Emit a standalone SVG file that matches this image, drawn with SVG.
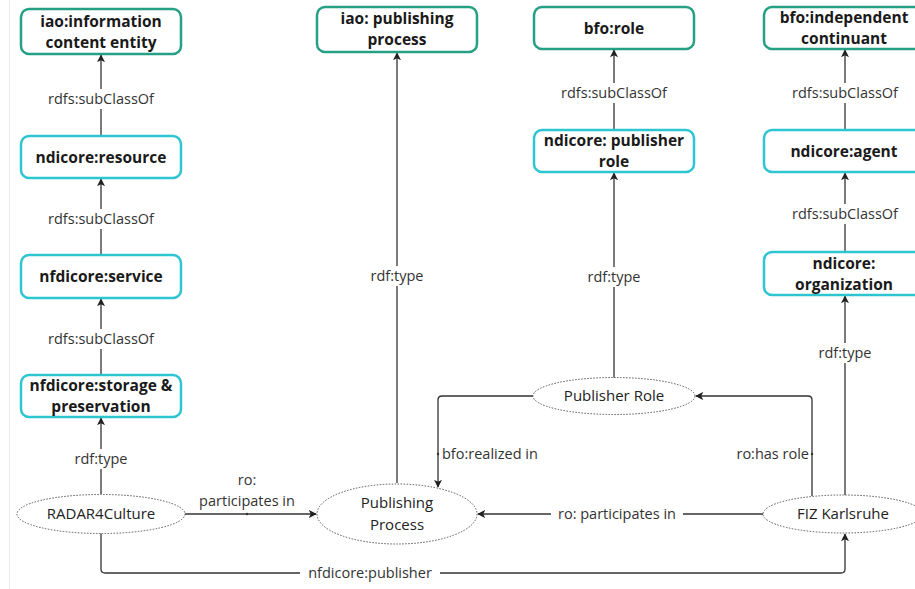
<svg xmlns="http://www.w3.org/2000/svg" width="915" height="589" viewBox="0 0 915 589">
<style>
.bg{fill:#ffffff}
.box1{fill:#ffffff;stroke:#26a085;stroke-width:2.5}
.box2{fill:#ffffff;stroke:#2ec5d3;stroke-width:2.5}
.ell{fill:#ffffff;stroke:#555;stroke-width:1;stroke-dasharray:1.5 1.5}
.bt{font-family:"Open Sans","Liberation Sans",sans-serif;font-weight:bold;font-size:15.5px;fill:#1a1a1a;text-anchor:middle}
.nt{font-family:"Open Sans","Liberation Sans",sans-serif;font-size:15px;fill:#222;text-anchor:middle}
.lt{font-family:"Open Sans","Liberation Sans",sans-serif;font-size:14.5px;fill:#333;text-anchor:middle}
.ls{text-anchor:start}
.le{text-anchor:end}
.ln{fill:none;stroke:#333;stroke-width:1.3}
.lbg{fill:#ffffff}
</style>
<defs>
<marker id="ah" viewBox="0 0 10 10" refX="9" refY="5" markerWidth="8" markerHeight="8" markerUnits="userSpaceOnUse" orient="auto">
<path d="M0,0 L10,5 L0,10 L2.5,5 Z" fill="#222"/>
</marker>
</defs>
<rect class="bg" x="0" y="0" width="915" height="589"/>
<line x1="9.5" y1="0" x2="9.5" y2="589" stroke="#ececec" stroke-width="1"/>

<g id="connectors">
<path class="ln" d="M101,494 V418" marker-end="url(#ah)"/>
<path class="ln" d="M101,375 V299" marker-end="url(#ah)"/>
<path class="ln" d="M101,255 V179" marker-end="url(#ah)"/>
<path class="ln" d="M101,136 V55" marker-end="url(#ah)"/>
<path class="ln" d="M397,483 V53" marker-end="url(#ah)"/>
<path class="ln" d="M614,378 V173" marker-end="url(#ah)"/>
<path class="ln" d="M614,130 V50" marker-end="url(#ah)"/>
<path class="ln" d="M845,495 V296" marker-end="url(#ah)"/>
<path class="ln" d="M845,252 V173" marker-end="url(#ah)"/>
<path class="ln" d="M845,130 V50" marker-end="url(#ah)"/>
<path class="ln" d="M185,514 H316" marker-end="url(#ah)"/>
<path class="ln" d="M764,514 H478" marker-end="url(#ah)"/>
<path class="ln" d="M533,396 H442 Q438,396 438,400 V487" marker-end="url(#ah)"/>
<path class="ln" d="M812,496 V400 Q812,396 808,396 H696" marker-end="url(#ah)"/>
<path class="ln" d="M101,533 V569 Q101,573 105,573 H841 Q845,573 845,569 V534" marker-end="url(#ah)"/>
<circle cx="247" cy="514" r="1.2" fill="#333"/>
<rect class="lbg" x="44" y="449" width="114" height="20"/>
<text class="lt" x="101" y="464">rdf:type</text>
<rect class="lbg" x="44" y="329" width="114" height="20"/>
<text class="lt" x="101" y="344">rdfs:subClassOf</text>
<rect class="lbg" x="44" y="209" width="114" height="20"/>
<text class="lt" x="101" y="224">rdfs:subClassOf</text>
<rect class="lbg" x="44" y="89" width="114" height="20"/>
<text class="lt" x="101" y="104">rdfs:subClassOf</text>
<rect class="lbg" x="360" y="266" width="74" height="20"/>
<text class="lt" x="397" y="281">rdf:type</text>
<rect class="lbg" x="578" y="267" width="72" height="20"/>
<text class="lt" x="614" y="282">rdf:type</text>
<rect class="lbg" x="557" y="83" width="114" height="20"/>
<text class="lt" x="614" y="98">rdfs:subClassOf</text>
<rect class="lbg" x="808" y="343" width="74" height="20"/>
<text class="lt" x="845" y="358">rdf:type</text>
<rect class="lbg" x="788" y="204" width="114" height="20"/>
<text class="lt" x="845" y="219">rdfs:subClassOf</text>
<rect class="lbg" x="788" y="83" width="114" height="20"/>
<text class="lt" x="845" y="98">rdfs:subClassOf</text>
<text class="lt" x="247" y="485">ro:</text>
<text class="lt" x="247" y="506">participates in</text>
<rect class="lbg" x="551" y="504" width="132" height="20"/>
<text class="lt" x="617" y="519">ro: participates in</text>
<text class="lt ls" x="442" y="459">bfo:realized in</text>
<circle cx="438" cy="454" r="1.2" fill="#333"/>
<text class="lt le" x="809" y="459">ro:has role</text>
<circle cx="812" cy="454" r="1.2" fill="#333"/>
<rect class="lbg" x="300" y="563" width="140" height="20"/>
<text class="lt" x="370" y="578">nfdicore:publisher</text>
</g>

<g id="iao-ice">
<rect class="box1" x="21" y="9" width="160" height="45" rx="8"/>
<text class="bt" x="101" y="27">iao:information</text>
<text class="bt" x="101" y="48">content entity</text>
</g>
<g id="ndicore-resource">
<rect class="box2" x="21" y="136" width="160" height="42" rx="8"/>
<text class="bt" x="101" y="163">ndicore:resource</text>
</g>
<g id="nfdicore-service">
<rect class="box2" x="21" y="255" width="160" height="43" rx="8"/>
<text class="bt" x="101" y="282">nfdicore:service</text>
</g>
<g id="nfdicore-storage">
<rect class="box2" x="21" y="375" width="160" height="42" rx="8"/>
<text class="bt" x="101" y="391">nfdicore:storage &amp;</text>
<text class="bt" x="101" y="412">preservation</text>
</g>
<g id="iao-publishing">
<rect class="box1" x="317" y="7" width="160" height="45" rx="8"/>
<text class="bt" x="397" y="24">iao: publishing</text>
<text class="bt" x="397" y="45">process</text>
</g>
<g id="bfo-role">
<rect class="box1" x="534" y="7" width="160" height="42" rx="8"/>
<text class="bt" x="614" y="34">bfo:role</text>
</g>
<g id="ndicore-publisher-role">
<rect class="box2" x="534" y="130" width="160" height="42" rx="8"/>
<text class="bt" x="614" y="146">ndicore: publisher</text>
<text class="bt" x="614" y="167">role</text>
</g>
<g id="bfo-independent">
<rect class="box1" x="764" y="7" width="160" height="42" rx="8"/>
<text class="bt" x="844" y="23">bfo:independent</text>
<text class="bt" x="844" y="44">continuant</text>
</g>
<g id="ndicore-agent">
<rect class="box2" x="764" y="130" width="160" height="42" rx="8"/>
<text class="bt" x="844" y="157">ndicore:agent</text>
</g>
<g id="ndicore-organization">
<rect class="box2" x="764" y="252" width="160" height="43" rx="8"/>
<text class="bt" x="844" y="269">ndicore:</text>
<text class="bt" x="844" y="290">organization</text>
</g>
<g id="radar4culture">
<ellipse class="ell" cx="101" cy="514" rx="84" ry="19.5"/>
<text class="nt" x="101" y="519">RADAR4Culture</text>
</g>
<g id="publishing-process">
<ellipse class="ell" cx="397" cy="514" rx="80" ry="30"/>
<text class="nt" x="397" y="508">Publishing</text>
<text class="nt" x="397" y="530">Process</text>
</g>
<g id="publisher-role">
<ellipse class="ell" cx="614" cy="396" rx="81" ry="18.5"/>
<text class="nt" x="614" y="401">Publisher Role</text>
</g>
<g id="fiz-karlsruhe">
<ellipse class="ell" cx="843" cy="514" rx="80" ry="19"/>
<text class="nt" x="843" y="519">FIZ Karlsruhe</text>
</g>
</svg>
